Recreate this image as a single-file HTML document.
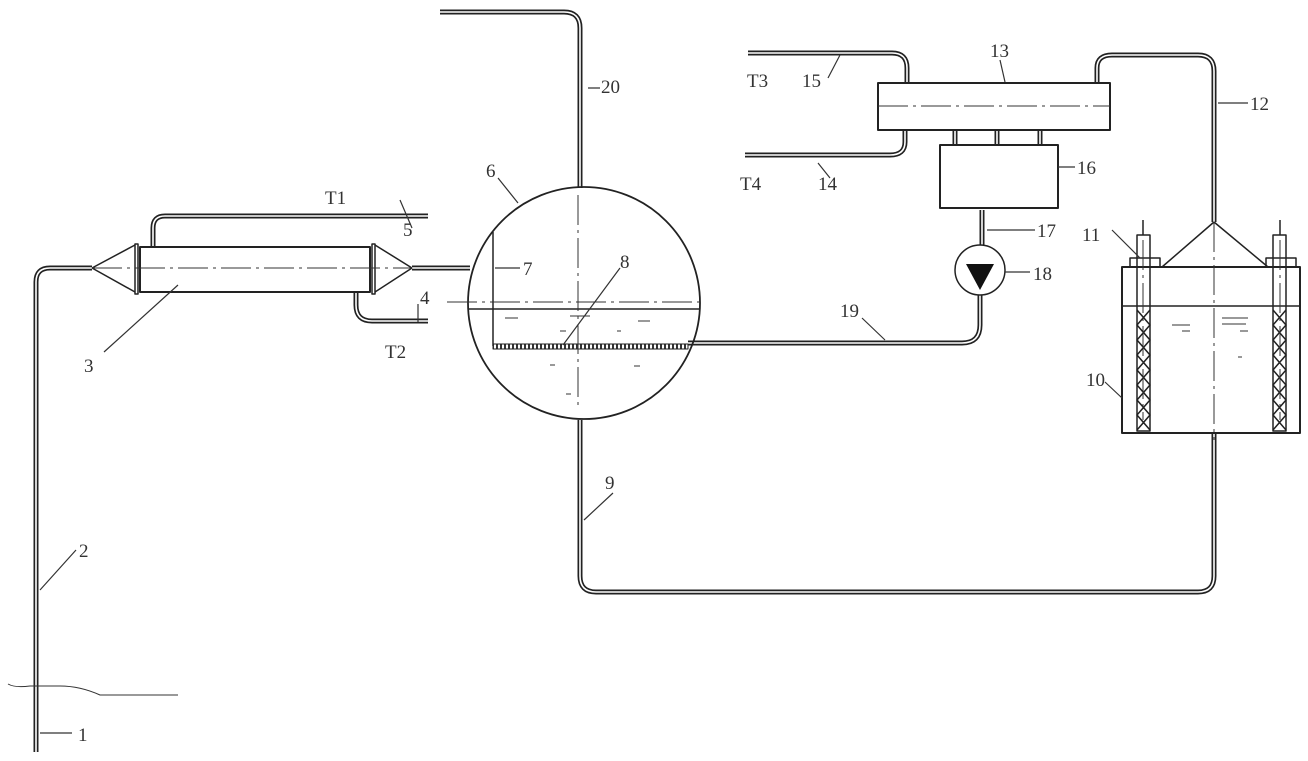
<!DOCTYPE html>
<html><head><meta charset="utf-8"><style>
html,body{margin:0;padding:0;background:#fff;}
svg{display:block;}
text{font-family:"Liberation Serif",serif;font-size:19px;fill:#333;}
</style></head><body>
<svg width="1308" height="761" viewBox="0 0 1308 761" xmlns="http://www.w3.org/2000/svg">
<defs>
<pattern id="hatch" width="4" height="5" patternUnits="userSpaceOnUse">
<rect width="4" height="5" fill="#fff"/><rect x="0" y="0" width="2" height="5" fill="#333"/></pattern>
</defs>
<g fill="none" stroke-linejoin="round">
<!-- double pipes: dark wide then white narrow -->
<g stroke="#222" stroke-width="5">
<path d="M36 752 V282 Q36 268 50 268 H92"/>
<path d="M412 268 H470"/>
<path d="M153 247 V228 Q153 216 165 216 H428"/>
<path d="M356 292 V305 Q356 321 372 321 H428"/>
<path d="M580 188 V28 Q580 12 564 12 H440"/>
<path d="M580 420 V576 Q580 592 596 592 H1198 Q1214 592 1214 576 V433"/>
<path d="M688 343 H962 Q980 343 980 325 V295"/>
<path d="M982 210 V245"/>
<path d="M907 83 V68 Q907 53 892 53 H748"/>
<path d="M905 130 V142 Q905 155 890 155 H745"/>
<path d="M1097 83 V68 Q1097 55 1112 55 H1198 Q1214 55 1214 71 V222"/>
<path d="M955 130 V145 M997 130 V145 M1040 130 V145"/>
</g>
<g stroke="#fff" stroke-width="1.6">
<path d="M36 752 V282 Q36 268 50 268 H92"/>
<path d="M412 268 H470"/>
<path d="M153 247 V228 Q153 216 165 216 H428"/>
<path d="M356 292 V305 Q356 321 372 321 H428"/>
<path d="M580 188 V28 Q580 12 564 12 H440"/>
<path d="M580 420 V576 Q580 592 596 592 H1198 Q1214 592 1214 576 V433"/>
<path d="M688 343 H962 Q980 343 980 325 V295"/>
<path d="M982 210 V245"/>
<path d="M907 83 V68 Q907 53 892 53 H748"/>
<path d="M905 130 V142 Q905 155 890 155 H745"/>
<path d="M1097 83 V68 Q1097 55 1112 55 H1198 Q1214 55 1214 71 V222"/>
<path d="M955 130 V145 M997 130 V145 M1040 130 V145"/>
</g>
<g stroke="#222" stroke-width="1.5">
<!-- heat exchanger 3 -->
<path d="M92 268 L135 245 M92 268 L135 292"/>
<rect x="135" y="244" width="3" height="50"/>
<rect x="140" y="247" width="230" height="45" stroke-width="2"/>
<rect x="372" y="244" width="3" height="50"/>
<path d="M412 268 L375 245 M412 268 L375 292"/>
<!-- circle 6 -->
<circle cx="584" cy="303" r="116" stroke-width="1.8"/>
<path d="M493 232 V346"/>
<path d="M468 309 H700"/>
<!-- box 13, 16 -->
<rect x="878" y="83" width="232" height="47" stroke-width="2"/>
<rect x="940" y="145" width="118" height="63" stroke-width="2"/>
<!-- pump -->
<circle cx="980" cy="270" r="25"/>
<!-- tank 10 -->
<rect x="1122" y="267" width="178" height="166" stroke-width="2"/>
<path d="M1214 222 L1162 267 M1214 222 L1268 267"/>
<path d="M1122 306 H1300"/>
<rect x="1130" y="258" width="30" height="9"/>
<rect x="1266" y="258" width="30" height="9"/>
<rect x="1137" y="235" width="13" height="196"/>
<rect x="1273" y="235" width="13" height="196"/>
<path d="M1143 220 V235 M1280 220 V235"/>
<path d="M1137 310 L1150 325 L1137 340 L1150 355 L1137 370 L1150 385 L1137 400 L1150 415 L1137 430"/>
<path d="M1150 310 L1137 325 L1150 340 L1137 355 L1150 370 L1137 385 L1150 400 L1137 415 L1150 430"/>
<path d="M1273 310 L1286 325 L1273 340 L1286 355 L1273 370 L1286 385 L1273 400 L1286 415 L1273 430"/>
<path d="M1286 310 L1273 325 L1286 340 L1273 355 L1286 370 L1273 385 L1286 400 L1273 415 L1286 430"/>
</g>
<rect x="493" y="344" width="195" height="5" fill="url(#hatch)" stroke="#222" stroke-width="1"/>
<path d="M966 264 H994 L980 290 Z" fill="#111"/>
<!-- center lines -->
<g stroke="#333" stroke-width="1" stroke-dasharray="30 5 3 5">
<path d="M92 268 H412"/>
<path d="M578 195 V405"/>
<path d="M447 302 H700"/>
<path d="M878 106 H1110"/>
<path d="M1214 222 V440"/>
<path d="M1143 240 V420 M1280 240 V420"/>
</g>
<!-- liquid dashes -->
<g stroke="#333" stroke-width="1">
<path d="M505 318 H518 M570 316 H590 M638 321 H650 M560 331 H566 M617 331 H621 M550 365 H555 M634 366 H640 M566 394 H571"/>
<path d="M1172 325 H1190 M1222 324 H1246 M1222 318 H1248 M1182 331 H1190 M1240 331 H1248 M1238 357 H1242"/>
<path d="M8 684 Q15 688 30 686 H60 Q80 686 100 695 H178"/>
</g>
<!-- leaders -->
<g stroke="#333" stroke-width="1.2">
<path d="M40 733 H72 M40 590 L76 550 M104 352 L178 285 M400 200 L412 228 M418 304 V322"/>
<path d="M498 178 L518 203 M495 268 H520 M563 345 L620 268 M588 88 H600"/>
<path d="M613 493 L584 520 M862 318 L885 340 M1005 272 H1030 M987 230 H1035 M1058 167 H1075"/>
<path d="M1000 60 L1005 82 M1218 103 H1248 M840 55 L828 78 M818 163 L830 178"/>
<path d="M1112 230 L1140 258 M1105 382 L1122 398"/>
</g>
</g>
<!-- labels -->
<text x="78" y="741">1</text>
<text x="79" y="557">2</text>
<text x="84" y="372">3</text>
<text x="420" y="304">4</text>
<text x="403" y="236">5</text>
<text x="486" y="177">6</text>
<text x="523" y="275">7</text>
<text x="620" y="268">8</text>
<text x="605" y="489">9</text>
<text x="1086" y="386">10</text>
<text x="1082" y="241">11</text>
<text x="1250" y="110">12</text>
<text x="990" y="57">13</text>
<text x="818" y="190">14</text>
<text x="802" y="87">15</text>
<text x="1077" y="174">16</text>
<text x="1037" y="237">17</text>
<text x="1033" y="280">18</text>
<text x="840" y="317">19</text>
<text x="601" y="93">20</text>
<text x="325" y="204">T1</text>
<text x="385" y="358">T2</text>
<text x="747" y="87">T3</text>
<text x="740" y="190">T4</text>
</svg>
</body></html>
